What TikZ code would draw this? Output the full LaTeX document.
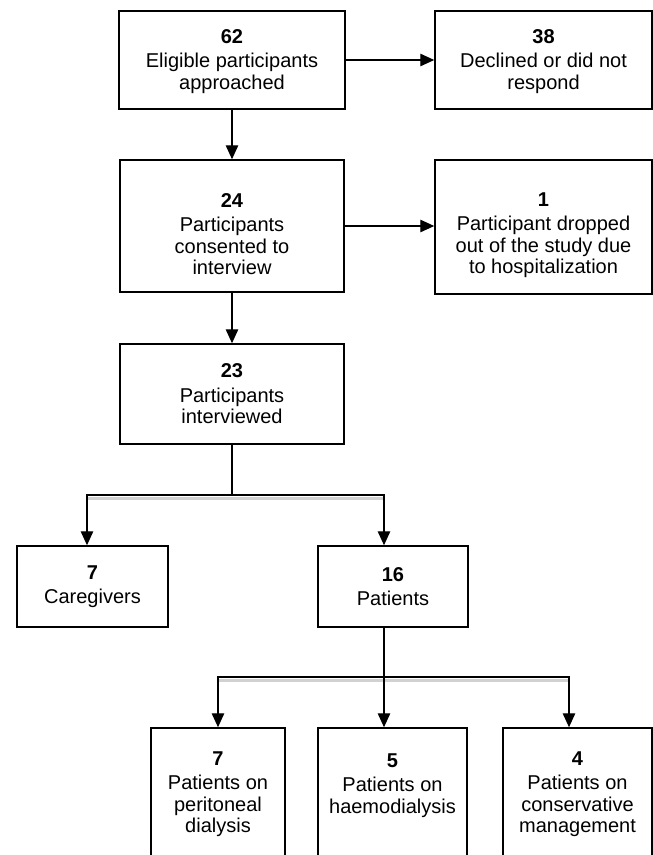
\documentclass[tikz,border=0pt]{standalone}
\usepackage{fontspec}
\setmainfont{Liberation Sans}
\usetikzlibrary{arrows.meta}

\newcommand{\cnt}[2][0pt]{\rule{0pt}{#1}\textbf{#2}\\[3pt]}

\begin{document}
\begin{tikzpicture}[%
    x=1pt, y=-1pt,      % pixel-like grid, y runs down
    >={Triangle[length=14pt,width=12.5pt]},
    box/.style={draw, line width=1.5pt, align=center, inner sep=0pt,
        font=\fontsize{20}{21.5}\selectfont},
    link/.style={->, line width=1.3pt},
    shade/.style={draw=black!18, line width=3pt}
]

    % ==========================================
    % 0. Frame
    % ==========================================
    \clip (0,0) rectangle (653,855);
    \useasboundingbox (0,0) rectangle (653,855);

    % ==========================================
    % 1. Boxes
    % ==========================================
    \node[box, minimum width=226, minimum height=98] (elig) at (232,60)
        {\cnt[17pt]{62}Eligible participants\\approached};
    \node[box, minimum width=217, minimum height=98] (decl) at (543.5,60)
        {\cnt[17pt]{38}Declined or did not\\respond};
    \node[box, minimum width=224, minimum height=132] (cons) at (232,226)
        {\cnt[30pt]{24}Participants\\consented to\\interview};
    \node[box, minimum width=217, minimum height=134] (drop) at (543.5,227)
        {\cnt[30pt]{1}Participant dropped\\out of the study due\\to hospitalization};
    \node[box, minimum width=224, minimum height=100] (intv) at (232,394)
        {\cnt{23}Participants\\interviewed};

    % split of interviewed participants
    \node[box, minimum width=151, minimum height=81] (care) at (92.5,586.5)
        {\cnt{7}Caregivers};
    \node[box, minimum width=150, minimum height=81] (pat) at (393,586.5)
        {\cnt{16}Patients};

    % patient groups (cut by the lower edge)
    \node[box, minimum width=134, minimum height=132] (pd) at (218,794)
        {\cnt{7}Patients on\\peritoneal\\dialysis};
    \node[box, minimum width=149, minimum height=132] (hd) at (392.5,794)
        {\cnt{5}Patients on\\haemodialysis\\\mbox{}};
    \node[box, minimum width=149, minimum height=132] (cm) at (577.5,794)
        {\cnt{4}Patients on\\conservative\\management};

    % ==========================================
    % 2. Connectors
    % ==========================================
    \coordinate (fork1) at (0,495);
    \coordinate (fork2) at (0,677);

    \draw[link] (elig.east) -- (elig.east -| decl.west);
    \draw[link] (elig.south) -- (cons.north);
    \draw[link] (cons.east) -- (cons.east -| drop.west);
    \draw[link] (cons.south) -- (intv.north);

    % soft shadow under the two forks
    \draw[shade] ([xshift=-5.5pt,yshift=-3pt]care.north |- fork1)
        -- ([xshift=-9pt,yshift=-3pt]pat.north |- fork1);
    \draw[shade] ([yshift=-3pt]pd.north |- fork2)
        -- ([xshift=-8.5pt,yshift=-3pt]cm.north |- fork2);

    % interviewed -> caregivers / patients
    \draw[link] (intv.south) -- (intv.south |- fork1)
        -| ([xshift=-5.5pt]care.north);
    \draw[link] (intv.south |- fork1) -| ([xshift=-9pt]pat.north);

    % patients -> three groups
    \draw[link] ([xshift=-9pt]pat.south) -- ([xshift=-8.5pt]hd.north);
    \draw[link] ([xshift=-9pt]pat.south |- fork2) -| (pd.north);
    \draw[link] ([xshift=-9pt]pat.south |- fork2) -| ([xshift=-8.5pt]cm.north);

\end{tikzpicture}
\end{document}
